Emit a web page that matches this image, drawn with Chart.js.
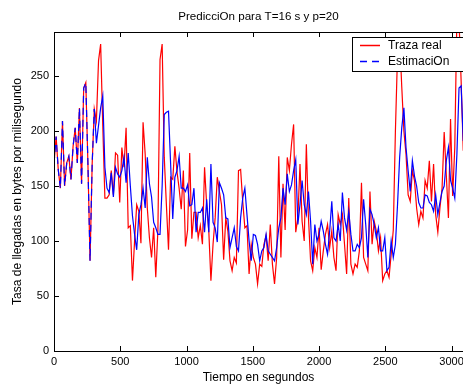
<!DOCTYPE html>
<html>
<head>
<meta charset="utf-8">
<script src="https://cdn.jsdelivr.net/npm/chart.js@4.4.1/dist/chart.umd.min.js"></script>
<style>
  body { margin: 0; background: #fff; }
  #wrap { width: 463px; height: 385px; }
</style>
</head>
<body>
<div id="wrap"><canvas id="myChart" width="463" height="385"></canvas></div>
<script>
// sample period (s), one value every T seconds
const T = 16;
const chartTitle = 'PredicciOn para T=16 s y p=20';

// measured traffic (bytes/ms)
const realTrace = [
  170, 195, 165, 148, 209, 150, 171, 177, 156, 186,
  203, 171, 221, 152, 239, 244, 170, 82, 170, 220,
  209, 264, 279, 205, 139, 139, 142, 164, 142, 180,
  178, 135, 185, 167, 203, 112, 114, 64, 100, 133,
  127, 98, 208, 179, 130, 103, 85, 112, 67, 110,
  265, 279, 176, 133, 92, 158, 156, 186, 163, 148,
  129, 164, 95, 110, 180, 102, 126, 126, 103, 114,
  97, 167, 133, 109, 64, 97, 121, 158, 145, 133,
  83, 121, 109, 82, 73, 85, 80, 164, 165, 136,
  112, 114, 70, 97, 85, 79, 61, 79, 77, 97,
  105, 82, 115, 79, 61, 85, 177, 85, 152, 110,
  176, 164, 188, 206, 108, 121, 170, 118, 100, 188,
  121, 82, 73, 94, 85, 112, 74, 91, 106, 115,
  94, 109, 85, 73, 124, 115, 124, 97, 70, 139,
  79, 70, 79, 76, 91, 153, 85, 79, 73, 145,
  97, 118, 109, 91, 103, 64, 70, 73, 67, 88,
  110, 200, 270, 285, 240, 200, 179, 142, 136, 164,
  155, 130, 115, 127, 121, 155, 148, 173, 136, 170,
  124, 108, 130, 148, 199, 160, 121, 211, 141, 185,
  305, 300, 245, 182
];

// prediction (first p=20 samples are the real ones)
const estimate = [
  170, 195, 165, 148, 209, 150, 171, 177, 156, 186,
  203, 171, 221, 152, 239, 244, 170, 82, 170, 220,
  189, 205, 221, 232, 167, 148, 144, 162, 140, 167,
  161, 158, 164, 176, 153, 180, 150, 123, 106, 92,
  124, 133, 148, 130, 176, 152, 140, 117, 112, 106,
  106, 150, 215, 217, 218, 170, 120, 158, 164, 177,
  148, 148, 145, 151, 132, 133, 148, 108, 126, 126,
  130, 108, 138, 108, 170, 117, 112, 99, 153, 148,
  142, 121, 120, 94, 103, 112, 95, 91, 121, 139,
  148, 124, 100, 82, 106, 105, 97, 82, 91, 94,
  106, 91, 88, 85, 82, 94, 112, 121, 148, 133,
  161, 145, 151, 164, 174, 115, 133, 155, 133, 124,
  145, 118, 79, 115, 100, 106, 118, 109, 97, 88,
  109, 136, 103, 100, 115, 100, 144, 121, 110, 127,
  106, 91, 91, 97, 94, 103, 138, 115, 85, 129,
  124, 115, 103, 112, 91, 91, 103, 73, 76, 100,
  85, 97, 133, 176, 203, 221, 185, 164, 145, 173,
  159, 150, 135, 130, 130, 142, 141, 135, 133, 127,
  142, 124, 135, 145, 150, 173, 185, 155, 148, 139,
  179, 239, 241, 191
];

const xTickValues = [0, 500, 1000, 1500, 2000, 2500, 3000];
const yTickValues = [0, 50, 100, 150, 200, 250];
const seriesColors = ['#ff0000', '#0000ff'];
const seriesDash = [[], [7, 5]];

const times = realTrace.map((_, i) => i * T);
const FONT = '"Liberation Sans", Arial, Helvetica, sans-serif';

// MATLAB style box with inward ticks, title centred over the axes
const axesBox = {
    id: 'axesBox',
    afterDatasetsDraw(chart) {
        const { ctx, chartArea: a, scales } = chart;
        ctx.save();
        ctx.strokeStyle = '#000';
        ctx.lineWidth = 1;
        ctx.beginPath();
        ctx.moveTo(a.right + 2, a.top + 0.5);
        ctx.lineTo(a.left + 0.5, a.top + 0.5);
        ctx.lineTo(a.left + 0.5, a.bottom + 0.5);
        ctx.lineTo(a.right + 2, a.bottom + 0.5);
        xTickValues.forEach(v => {
            const x = Math.round(scales.x.getPixelForValue(v)) + 0.5;
            ctx.moveTo(x, a.bottom);
            ctx.lineTo(x, a.bottom - 5);
            ctx.moveTo(x, a.top);
            ctx.lineTo(x, a.top + 5);
        });
        yTickValues.forEach(v => {
            const y = Math.round(scales.y.getPixelForValue(v)) + 0.5;
            ctx.moveTo(a.left, y);
            ctx.lineTo(a.left + 5, y);
        });
        ctx.stroke();

        ctx.fillStyle = '#000';
        ctx.font = '11.6px ' + FONT;
        ctx.textAlign = 'center';
        ctx.textBaseline = 'middle';
        ctx.fillText(chartTitle, (a.left + a.right) / 2, 17);
        ctx.restore();
    }
};

// legend box in the upper right corner
const legendBox = {
    id: 'legendBox',
    afterDraw(chart) {
        const { ctx, chartArea } = chart;
        const x0 = chartArea.right - 111;
        const y0 = chartArea.top + 5;
        ctx.save();
        ctx.fillStyle = '#fff';
        ctx.fillRect(x0, y0, 120, 34);
        ctx.strokeStyle = '#000';
        ctx.lineWidth = 1;
        ctx.strokeRect(x0 + 0.5, y0 + 0.5, 120, 34);
        chart.data.datasets.forEach((ds, i) => {
            const y = y0 + 8.5 + i * 16;
            ctx.lineWidth = 1.5;
            ctx.strokeStyle = seriesColors[i];
            ctx.setLineDash(seriesDash[i]);
            ctx.beginPath();
            ctx.moveTo(x0 + 8, y);
            ctx.lineTo(x0 + 28, y);
            ctx.stroke();
            ctx.setLineDash([]);
            ctx.fillStyle = '#000';
            ctx.font = '12px ' + FONT;
            ctx.textAlign = 'left';
            ctx.textBaseline = 'middle';
            ctx.fillText(ds.label, x0 + 36, y);
        });
        ctx.restore();
    }
};

new Chart(document.getElementById('myChart').getContext('2d'), {
    type: 'line',
    data: {
        datasets: [{
            label: 'Traza real',
            data: times.map((t, i) => ({ x: t, y: realTrace[i] })),
            borderColor: seriesColors[0],
            borderWidth: 1.2,
            pointRadius: 0,
            order: 2,
            clip: 0
        }, {
            label: 'EstimaciOn',
            data: times.map((t, i) => ({ x: t, y: estimate[i] })),
            borderColor: seriesColors[1],
            borderWidth: 1.2,
            borderDash: seriesDash[1],
            pointRadius: 0,
            order: 1,
            clip: 0,
            // dashes only show where it lies on top of the real trace
            segment: { borderDash: c => c.p0DataIndex >= 19 ? [] : undefined }
        }]
    },
    options: {
        responsive: false,
        animation: false,
        layout: { padding: { top: 32, left: 0, right: 0, bottom: 0 } },
        plugins: {
            legend: { display: false },
            tooltip: { enabled: false },
            title: { display: false }
        },
        scales: {
            x: {
                type: 'linear',
                min: 0,
                max: 3086,
                grid: { display: false, drawTicks: false },
                border: { display: false },
                afterBuildTicks: s => { s.ticks = xTickValues.map(v => ({ value: v })); },
                afterFit: s => { s.height = 34; s.paddingLeft = 0; s.paddingRight = 0; },
                ticks: {
                    autoSkip: false, maxRotation: 0, padding: 4, color: '#000',
                    font: { family: FONT, size: 11 },
                    callback: v => String(v)
                },
                title: {
                    display: true, text: 'Tiempo en segundos', color: '#000',
                    font: { family: FONT, size: 12 }, padding: 0
                }
            },
            y: {
                min: 0,
                max: 290,
                grid: { display: false, drawTicks: false },
                border: { display: false },
                afterBuildTicks: s => { s.ticks = yTickValues.map(v => ({ value: v })); },
                afterFit: s => { s.width = 54; },
                ticks: {
                    padding: 5, color: '#000',
                    font: { family: FONT, size: 11 },
                    callback: v => String(v)
                },
                title: {
                    display: true, text: 'Tasa de llegadas en bytes por milisegundo', color: '#000',
                    font: { family: FONT, size: 12 }, padding: { top: 10, bottom: 0 }
                }
            }
        }
    },
    plugins: [axesBox, legendBox]
});
</script>
</body>
</html>
